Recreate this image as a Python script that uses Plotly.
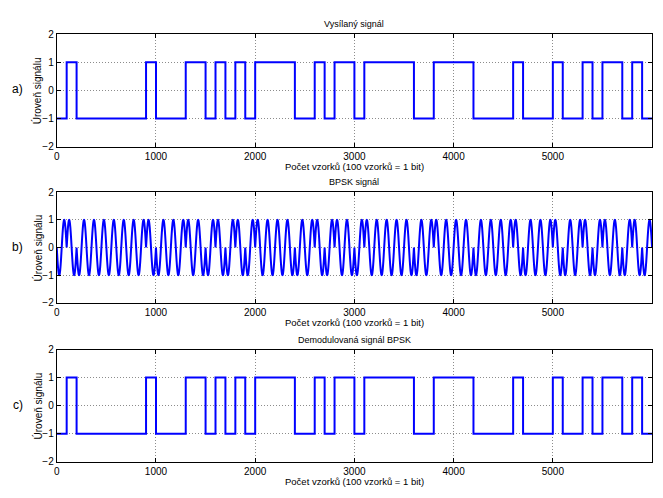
import numpy as np
import plotly.graph_objects as go

# ---- data ----
transmitted_bits = [-1, 1, -1, -1, -1, -1, -1, -1, -1, 1,
                    -1, -1, -1, 1, 1, -1, 1, -1, 1, -1,
                    1, 1, 1, 1, -1, -1, 1, -1, 1, 1,
                    -1, 1, 1, 1, 1, 1, -1, -1, 1, 1,
                    1, 1, -1, -1, -1, -1, 1, -1, -1, -1,
                    1, -1, -1, 1, -1, 1, 1, -1, 1, -1]
demodulated_bits = list(transmitted_bits)
samples_per_bit = 100
carrier_cycles_per_bit = 1
x_ticks = [0, 1000, 2000, 3000, 4000, 5000]
y_ticks = [-2, -1, 0, 1, 2]
titles = ["Vysílaný signál", "BPSK signál", "Demodulovaná signál BPSK"]
panel_labels = ["a)", "b)", "c)"]
x_label = "Počet vzorků (100 vzorků = 1 bit)"
y_label = "Úroveň signálu"

# ---- derived series ----
n_bits = len(transmitted_bits)
edges = np.arange(n_bits + 1) * samples_per_bit
step_y_tx = transmitted_bits + [transmitted_bits[-1]]
step_y_dm = demodulated_bits + [demodulated_bits[-1]]
n = np.arange(0, n_bits * samples_per_bit + 1)
bb = np.repeat(transmitted_bits, samples_per_bit)
bb = np.append(bb, transmitted_bits[-1])
bpsk = bb * np.sin(2 * np.pi * carrier_cycles_per_bit * n / samples_per_bit)

W, H = 663, 498
FONT = "Liberation Sans, Arial, sans-serif"
BLUE = "#0000ff"

fig = go.Figure()
fig.add_trace(go.Scatter(x=edges, y=step_y_tx, mode="lines", line_shape="hv",
                         line=dict(color=BLUE, width=2), xaxis="x", yaxis="y"))
fig.add_trace(go.Scatter(x=n, y=bpsk, mode="lines",
                         line=dict(color=BLUE, width=2, simplify=False), xaxis="x2", yaxis="y2"))
fig.add_trace(go.Scatter(x=edges, y=step_y_dm, mode="lines", line_shape="hv",
                         line=dict(color=BLUE, width=2), xaxis="x3", yaxis="y3"))

# pixel geometry of the three panels (top, bottom)
left_px, right_px = 54, 652
panels = [(29, 144), (191, 304), (352, 467)]

def py(v):
    return 1 - v / H

axis_common = dict(showline=True, linecolor="black", linewidth=1, mirror="ticks",
                   ticks="inside", ticklen=4, tickcolor="black",
                   showgrid=True, gridcolor="#8c8c8c", griddash="1px,2px", gridwidth=1,
                   zeroline=False, tickfont=dict(family=FONT, size=10, color="black"))

layout = dict(width=W, height=H, margin=dict(l=0, r=0, t=0, b=0),
              paper_bgcolor="white", plot_bgcolor="white", showlegend=False,
              font=dict(family=FONT, color="black"))
annotations = []
for i, (top, bot) in enumerate(panels):
    sfx = "" if i == 0 else str(i + 1)
    layout["xaxis" + sfx] = dict(axis_common, domain=[left_px / W, right_px / W],
                                 range=[0, n_bits * samples_per_bit], tickvals=x_ticks,
                                 anchor="y" + sfx)
    layout["yaxis" + sfx] = dict(axis_common, domain=[py(bot), py(top)],
                                 range=[-2, 2], tickvals=y_ticks, anchor="x" + sfx)
    cx = (left_px + right_px) / 2 / W
    annotations.append(dict(text=titles[i], x=cx, y=py(top - 3), xref="paper", yref="paper",
                            xanchor="center", yanchor="bottom", showarrow=False,
                            font=dict(family=FONT, size=9)))
    annotations.append(dict(text=x_label, x=cx, y=py(bot + 13), xref="paper", yref="paper",
                            xanchor="center", yanchor="top", showarrow=False,
                            font=dict(family=FONT, size=9.5)))
    annotations.append(dict(text=y_label, x=35 / W, y=py((top + bot) / 2), xref="paper",
                            yref="paper", xanchor="center", yanchor="middle", textangle=-90,
                            showarrow=False, font=dict(family=FONT, size=10)))
    annotations.append(dict(text=panel_labels[i], x=15 / W, y=py((top + bot) / 2 - 1),
                            xref="paper", yref="paper", xanchor="center", yanchor="middle",
                            showarrow=False, font=dict(family=FONT, size=12)))
layout["annotations"] = annotations
fig.update_layout(**layout)
fig.write_html("out.html")
